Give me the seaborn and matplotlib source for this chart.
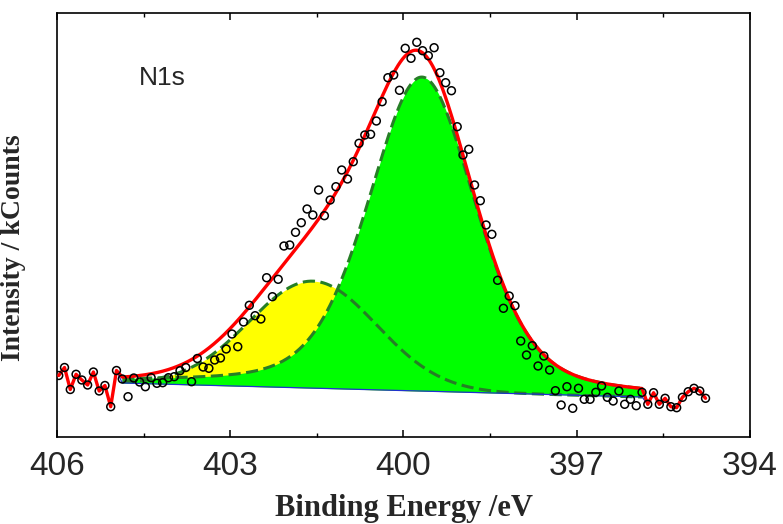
import numpy as np
import pandas as pd
import matplotlib
matplotlib.use("Agg")
import matplotlib.pyplot as plt
import seaborn as sns

# ---------------- data ----------------
energy = [
    405.97, 405.87, 405.77, 405.67, 405.57, 405.47, 405.37, 405.27, 405.17, 405.07,
    404.97, 404.87, 404.77, 404.67, 404.57, 404.47, 404.37, 404.27, 404.17, 404.07,
    403.97, 403.87, 403.77, 403.67, 403.57, 403.47, 403.37, 403.27, 403.17, 403.07,
    402.97, 402.87, 402.77, 402.67, 402.57, 402.47, 402.37, 402.27, 402.17, 402.07,
    401.97, 401.87, 401.77, 401.67, 401.57, 401.47, 401.37, 401.27, 401.17, 401.07,
    400.97, 400.87, 400.77, 400.67, 400.57, 400.47, 400.37, 400.27, 400.17, 400.07,
    399.97, 399.87, 399.77, 399.67, 399.57, 399.47, 399.37, 399.27, 399.17, 399.07,
    398.97, 398.87, 398.77, 398.67, 398.57, 398.47, 398.37, 398.27, 398.17, 398.07,
    397.97, 397.87, 397.77, 397.67, 397.57, 397.47, 397.37, 397.27, 397.17, 397.07,
    396.97, 396.87, 396.77, 396.67, 396.57, 396.47, 396.37, 396.27, 396.17, 396.07,
    395.97, 395.87, 395.77, 395.67, 395.57, 395.47, 395.37, 395.27, 395.17, 395.07,
    394.97, 394.87, 394.77,
]
counts = [
    0.615, 0.695, 0.475, 0.627, 0.570, 0.520, 0.650, 0.460, 0.515, 0.303,
    0.665, 0.580, 0.403, 0.590, 0.550, 0.503, 0.593, 0.537, 0.543, 0.593,
    0.603, 0.663, 0.695, 0.553, 0.785, 0.700, 0.687, 0.770, 0.790, 0.880,
    1.030, 0.903, 1.150, 1.317, 1.213, 1.180, 1.593, 1.403, 1.577, 1.910,
    1.920, 2.047, 2.143, 2.280, 2.220, 2.470, 2.213, 2.370, 2.503, 2.670,
    2.580, 2.753, 2.937, 3.020, 3.027, 3.160, 3.353, 3.593, 3.620, 3.467,
    3.887, 3.787, 3.947, 3.863, 3.813, 3.893, 3.643, 3.543, 3.463, 3.103,
    2.820, 2.877, 2.520, 2.363, 2.120, 2.027, 1.567, 1.287, 1.410, 1.313,
    0.960, 0.820, 0.913, 0.710, 0.810, 0.670, 0.463, 0.320, 0.503, 0.287,
    0.487, 0.377, 0.377, 0.447, 0.510, 0.397, 0.360, 0.460, 0.327, 0.377,
    0.313, 0.447, 0.327, 0.443, 0.327, 0.387, 0.303, 0.293, 0.397, 0.453,
    0.487, 0.460, 0.387,
]

# fit window and linear background
fit_start_ev = 404.87
fit_end_ev = 395.87
bg_start = 0.54
bg_end = 0.40

# fitted components (center eV, height, FWHM eV, Lorentzian fraction)
pyridinic_center, pyridinic_height, pyridinic_fwhm, pyridinic_lor = 399.68, 3.14, 2.20, 0.35
graphitic_center, graphitic_height, graphitic_fwhm, graphitic_lor = 401.57, 1.07, 2.60, 0.0

xticks_major = [406, 403, 400, 397, 394]
xticks_minor = [404.5, 401.5, 398.5, 395.5]
panel_label = "N1s"
x_title = "Binding Energy /eV"
y_title = "Intensity / kCounts"


def gl_peak(x, c, h, w, m):
    u = (x - c) / w
    g = np.exp(-4.0 * np.log(2.0) * u ** 2)
    lo = 1.0 / (1.0 + 4.0 * u ** 2)
    return h * ((1.0 - m) * g + m * lo)


def background(x):
    return bg_end + (bg_start - bg_end) * (x - fit_end_ev) / (fit_start_ev - fit_end_ev)


# ---------------- build curves ----------------
energy_arr = np.array(energy)
counts_arr = np.array(counts)
grid = np.linspace(fit_start_ev, fit_end_ev, 500)
bg = background(grid)
comp1 = gl_peak(grid, pyridinic_center, pyridinic_height, pyridinic_fwhm, pyridinic_lor)
comp2 = gl_peak(grid, graphitic_center, graphitic_height, graphitic_fwhm, graphitic_lor)
total = bg + comp1 + comp2

left = energy_arr > fit_start_ev + 1e-6
right = energy_arr < fit_end_ev - 1e-6

red_x = np.concatenate([energy_arr[left], grid, energy_arr[right]])
red_y = np.concatenate([counts_arr[left], total, counts_arr[right]])
blue_x = red_x
blue_y = np.concatenate([counts_arr[left], bg, counts_arr[right]])

df_pts = pd.DataFrame({"energy": energy, "counts": counts})
df_red = pd.DataFrame({"energy": red_x, "counts": red_y})
df_blue = pd.DataFrame({"energy": blue_x, "counts": blue_y})
df_c1 = pd.DataFrame({"energy": grid, "counts": bg + comp1})
df_c2 = pd.DataFrame({"energy": grid, "counts": bg + comp2})

# ---------------- plot ----------------
sns.set_style("white")
plt.rcParams["font.family"] = ["Liberation Sans", "DejaVu Sans"]

fig = plt.figure(figsize=(7.83, 5.24), dpi=100)
ax = fig.add_axes([57 / 783, (524 - 437) / 524, (750 - 57) / 783, (437 - 13) / 524])

ax.fill_between(grid, bg, bg + comp2, color="#FFFF00", lw=0, zorder=1)
ax.fill_between(grid, bg, bg + comp1, color="#00FF00", lw=0, zorder=2)

dash_col = "#267F26"
sns.lineplot(data=df_c2, x="energy", y="counts", sort=False, estimator=None, ax=ax,
             color=dash_col, lw=2.2, zorder=3)
sns.lineplot(data=df_c1, x="energy", y="counts", sort=False, estimator=None, ax=ax,
             color=dash_col, lw=2.2, zorder=3)
for ln in ax.lines[-2:]:
    ln.set_dashes([4, 1.8])

sns.lineplot(data=df_red, x="energy", y="counts", sort=False, estimator=None, ax=ax,
             color="#FF0000", lw=2.4, zorder=4)
sns.lineplot(data=df_blue, x="energy", y="counts", sort=False, estimator=None, ax=ax,
             color="#2030D0", lw=0.9, zorder=5)
ax.lines[-1].set_zorder(3.5)

sns.scatterplot(data=df_pts, x="energy", y="counts", ax=ax, marker="o", s=32,
                facecolor="none", edgecolor="black", linewidth=1.1, zorder=6)

ax.set_xlim(406, 394)
ax.set_ylim(0, 4.24)
ax.set_xticks(xticks_major)
ax.set_xticks(xticks_minor, minor=True)
ax.set_xticklabels([str(t) for t in xticks_major],
                   fontfamily=["Liberation Sans"], fontsize=24)
ax.set_yticks([])
ax.tick_params(axis="x", which="both", direction="in", top=True, bottom=True, color="black")
ax.tick_params(axis="x", which="major", length=5, width=1.1, pad=10)
ax.tick_params(axis="x", which="minor", length=3, width=1.0)

for sp in ax.spines.values():
    sp.set_visible(True)
    sp.set_color("black")
    sp.set_linewidth(1.2)

ax.set_xlabel(x_title, fontfamily=["Liberation Serif"], fontweight="bold", fontsize=22)
ax.set_ylabel(y_title, fontfamily=["Liberation Serif"], fontweight="bold", fontsize=20)
ax.xaxis.set_label_coords(0.5, -0.134)
ax.yaxis.set_label_coords(-0.045, 0.446)

ax.text(404.58, 3.59, panel_label, fontsize=19, fontfamily=["Liberation Sans"],
        ha="left", va="center")

fig.savefig("out.png", dpi=100)
